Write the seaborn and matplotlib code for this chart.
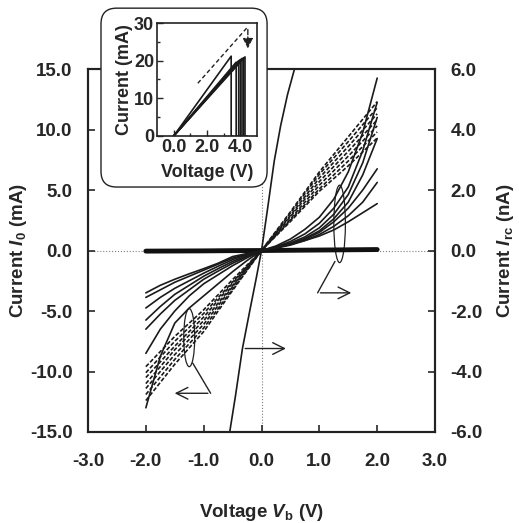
import numpy as np
import pandas as pd
import matplotlib.pyplot as plt
import seaborn as sns
from matplotlib.patches import Ellipse, FancyBboxPatch

# Bias voltage grids (V)
volts = [-2.0, -1.5, -1.0, -0.5, 0.0, 0.5, 1.0, 1.5, 2.0]
volts_fine = [-2.0, -1.75, -1.5, -1.25, -1.0, -0.75, -0.5, -0.25, 0.0,
              0.25, 0.5, 0.75, 1.0, 1.25, 1.5, 1.75, 2.0]

# Dashed curves: I_0 in mA (left axis)
i0_curves = [
    [-9.6, -7.1, -4.9, -2.4, 0.0, 2.4, 4.9, 7.0, 9.3],
    [-10.1, -7.5, -5.2, -2.6, 0.0, 2.5, 5.1, 7.4, 9.8],
    [-10.5, -7.9, -5.5, -2.7, 0.0, 2.6, 5.4, 7.8, 10.3],
    [-11.0, -8.2, -5.8, -2.9, 0.0, 2.8, 5.7, 8.2, 10.8],
    [-11.4, -8.6, -6.1, -3.0, 0.0, 2.9, 6.0, 8.6, 11.3],
    [-11.9, -9.0, -6.4, -3.2, 0.0, 3.1, 6.3, 9.0, 11.8],
    [-12.4, -9.4, -6.7, -3.3, 0.0, 3.2, 6.5, 9.4, 12.3],
]

# Solid nonlinear curves: I_rc in nA (right axis)
irc_curves = [
    [-5.2, -3.5, -2.4, -1.9, -1.5, -1.1, -0.7, -0.33, 0.0, 0.15, 0.38, 0.7, 1.1, 1.7, 2.6, 3.9, 5.7],
    [-3.4, -2.6, -2.0, -1.5, -1.1, -0.8, -0.5, -0.24, 0.0, 0.12, 0.3, 0.55, 0.9, 1.4, 2.1, 3.3, 4.9],
    [-2.6, -2.1, -1.65, -1.3, -0.95, -0.68, -0.42, -0.2, 0.0, 0.1, 0.25, 0.45, 0.75, 1.2, 1.85, 2.9, 4.4],
    [-2.3, -1.85, -1.45, -1.15, -0.85, -0.6, -0.36, -0.17, 0.0, 0.09, 0.22, 0.4, 0.65, 1.05, 1.6, 2.5, 3.7],
    [-1.9, -1.55, -1.25, -1.0, -0.75, -0.52, -0.3, -0.14, 0.0, 0.09, 0.2, 0.37, 0.6, 0.95, 1.4, 2.0, 2.7],
    [-1.55, -1.3, -1.05, -0.85, -0.65, -0.45, -0.25, -0.12, 0.0, 0.08, 0.18, 0.33, 0.53, 0.8, 1.15, 1.6, 2.25],
    [-1.4, -1.15, -0.95, -0.77, -0.6, -0.42, -0.2, -0.1, 0.0, 0.1, 0.2, 0.33, 0.48, 0.68, 0.95, 1.25, 1.55],
]

# Thick near-zero trace (mA)
flat_trace = [-0.05, -0.04, -0.03, -0.01, 0.0, 0.02, 0.04, 0.06, 0.08]

# Steep curve (nA, right axis)
steep_v = [-0.55, -0.45, -0.33, -0.2, -0.1, 0.0, 0.1, 0.22, 0.33, 0.45, 0.57]
steep_i = [-6.0, -4.8, -3.24, -1.96, -1.0, 0.0, 1.32, 2.96, 4.12, 5.16, 6.0]

# Inset: breakdown sweeps (V, mA)
inset_vpeak = [3.45, 3.75, 3.9, 4.0, 4.1, 4.2, 4.28]
inset_ipeak = [21.2, 19.6, 20.0, 20.3, 20.6, 20.8, 21.0]

left_ticks = [-15.0, -10.0, -5.0, 0.0, 5.0, 10.0, 15.0]
right_ticks = [-6.0, -4.0, -2.0, 0.0, 2.0, 4.0, 6.0]
x_ticks = [-3.0, -2.0, -1.0, 0.0, 1.0, 2.0, 3.0]

sns.set_theme(style="ticks")
plt.rcParams['font.family'] = ['Liberation Sans', 'DejaVu Sans']
plt.rcParams['font.weight'] = 'bold'
plt.rcParams['mathtext.fontset'] = 'custom'
plt.rcParams['mathtext.rm'] = 'Liberation Sans:bold'
plt.rcParams['mathtext.it'] = 'Liberation Sans:bold:italic'
plt.rcParams['mathtext.bf'] = 'Liberation Sans:bold'
plt.rcParams['axes.linewidth'] = 1.5
plt.rcParams['text.color'] = '#222222'

FS = 13.5

fig = plt.figure(figsize=(5.19, 5.23), dpi=100)
ax = fig.add_axes([0.1696, 0.174, 0.6686, 0.694])
ax2 = ax.twinx()

# long-form tables for seaborn
df_i0 = pd.DataFrame([(k, v, i) for k, c in enumerate(i0_curves) for v, i in zip(volts, c)],
                     columns=['curve', 'V', 'I'])
df_irc = pd.DataFrame([(k, v, i) for k, c in enumerate(irc_curves) for v, i in zip(volts_fine, c)],
                      columns=['curve', 'V', 'I'])

ax.axhline(0, color='gray', lw=0.8, ls=':', zorder=0)
ax.axvline(0, color='gray', lw=0.8, ls=':', zorder=0)

sns.lineplot(data=df_i0, x='V', y='I', units='curve', estimator=None, sort=False,
             color='#1a1a1a', lw=1.2, linestyle=(0, (2.5, 1.2)), ax=ax)
sns.lineplot(x=volts, y=flat_trace, color='#111111', lw=3.5, estimator=None, ax=ax)
sns.lineplot(data=df_irc, x='V', y='I', units='curve', estimator=None, sort=False,
             color='#1a1a1a', lw=1.2, ax=ax2)
sns.lineplot(x=steep_v, y=steep_i, color='#1a1a1a', lw=1.2, sort=False, estimator=None, ax=ax2)

ax.set_xlim(-3, 3)
ax.set_ylim(-15, 15)
ax2.set_ylim(-6, 6)
ax.set_xticks(x_ticks)
ax.set_xticklabels([f"{t:.1f}" for t in x_ticks])
ax.set_yticks(left_ticks)
ax.set_yticklabels([f"{t:.1f}" for t in left_ticks])
ax2.set_yticks(right_ticks)
ax2.set_yticklabels([f"{t:.1f}" for t in right_ticks])

ax.tick_params(axis='x', direction='in', length=5, width=1.2, pad=15, labelsize=FS)
ax.tick_params(axis='y', direction='in', length=5, width=1.2, pad=11, labelsize=FS)
ax2.tick_params(axis='y', direction='in', length=5, width=1.2, pad=11, labelsize=FS)

ax.set_xlabel(r"Voltage $V_{\mathrm{b}}$ (V)", fontsize=FS, fontweight='bold', labelpad=23)
ax.set_ylabel(r"Current $I_0$ (mA)", fontsize=FS, fontweight='bold', labelpad=1)
ax2.set_ylabel(r"Current $I_{\mathrm{rc}}$ (nA)", fontsize=FS, fontweight='bold', labelpad=9)
for a in (ax, ax2):
    for s in a.spines.values():
        s.set_linewidth(1.5)
        s.set_color('#222222')

# annotations (left axis data coords)
arrow_kw = dict(arrowstyle='->,head_length=0.7,head_width=0.35', lw=1.0, color='#222222')
ax.add_patch(Ellipse((1.35, 2.2), 0.2, 6.4, fill=False, lw=0.9, color='#222222'))
ax.plot([1.27, 0.97], [-0.9, -3.5], color='#222222', lw=1.0)
ax.annotate('', xy=(1.6, -3.5), xytext=(0.97, -3.5), arrowprops=arrow_kw)
ax.add_patch(Ellipse((-1.25, -7.2), 0.19, 4.8, fill=False, lw=0.9, color='#222222'))
ax.plot([-1.19, -0.88], [-9.3, -11.8], color='#222222', lw=1.0)
ax.annotate('', xy=(-1.55, -11.8), xytext=(-0.88, -11.8), arrowprops=arrow_kw)
ax.annotate('', xy=(0.47, -8.1), xytext=(-0.33, -8.1), arrowprops=arrow_kw)

# rounded inset frame
box = FancyBboxPatch((0.1946, 0.6424), 0.32, 0.342, boxstyle="round,pad=0,rounding_size=0.03",
                     transform=fig.transFigure, facecolor='white', edgecolor='#222222',
                     lw=1.0, zorder=1)
fig.add_artist(box)

axi = fig.add_axes([0.3025, 0.740, 0.1927, 0.216], zorder=2)
for vp, ip in zip(inset_vpeak, inset_ipeak):
    sns.lineplot(x=[0.0, vp, vp, vp + 0.1], y=[0.0, ip, 0.0, 0.0], sort=False,
                 estimator=None, color='#1a1a1a', lw=1.2, ax=axi)
axi.plot([1.45, 4.45], [14.0, 29.0], color='#222222', lw=1.0, ls=(0, (3, 2)))
axi.annotate('', xy=(4.45, 22.5), xytext=(4.45, 29.0),
             arrowprops=dict(arrowstyle='-|>,head_length=0.5,head_width=0.25', lw=1.0,
                             ls='--', color='#222222'))
axi.set_xlim(-1, 5)
axi.set_ylim(0, 30)
axi.set_xticks([0.0, 2.0, 4.0])
axi.set_xticklabels(["0.0", "2.0", "4.0"])
axi.set_xticks([1.0, 3.0], minor=True)
axi.set_yticks([0, 10, 20, 30])
axi.set_yticks([5, 15, 25], minor=True)
axi.tick_params(which='both', direction='in', labelsize=13, width=1.0)
axi.tick_params(which='major', length=4, pad=2)
axi.tick_params(which='minor', length=2.5)
axi.set_xlabel("Voltage (V)", fontsize=13, fontweight='bold', labelpad=6)
axi.set_ylabel("Current (mA)", fontsize=13, fontweight='bold', labelpad=1)
for s in axi.spines.values():
    s.set_linewidth(1.2)
    s.set_color('#222222')

fig.savefig("out.png", dpi=100)
